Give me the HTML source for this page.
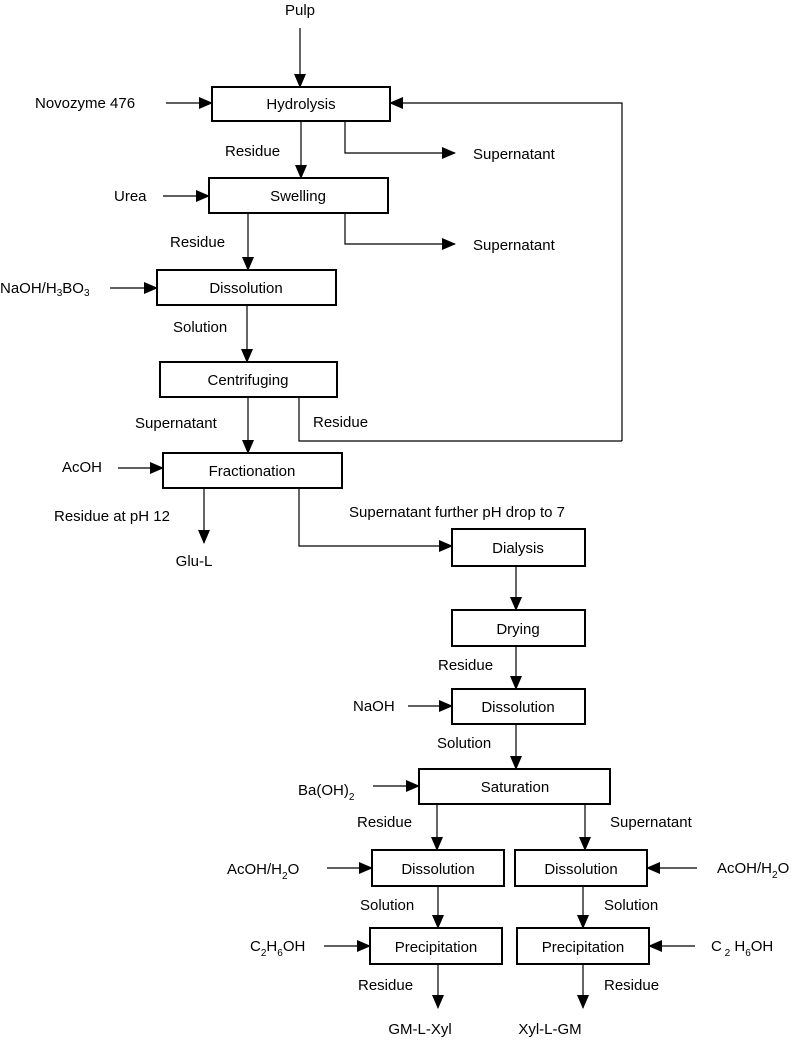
<!DOCTYPE html>
<html><head><style>
html,body{margin:0;padding:0;background:#fff;}
svg{display:block;}
text{font-family:"Liberation Sans",Arial,sans-serif;font-size:15px;fill:#000;}
</style></head><body>
<svg width="797" height="1041" viewBox="0 0 797 1041" xmlns="http://www.w3.org/2000/svg">
<defs><marker id="a" markerWidth="10" markerHeight="10" refX="9" refY="5" orient="auto" markerUnits="userSpaceOnUse"><path d="M0,0 L10,5 L0,10 z" fill="#000"/></marker>
<marker id="d" markerWidth="14" markerHeight="14" refX="13" refY="6" orient="auto" markerUnits="userSpaceOnUse"><path d="M0,0 L14,6 L0,12 z" fill="#000"/></marker></defs>
<g fill="none" stroke="#000" stroke-width="1.2">
<!-- boxes -->
<rect x="212" y="87" width="178" height="34" stroke-width="2"/>
<rect x="209" y="178" width="179" height="35" stroke-width="2"/>
<rect x="157" y="270" width="179" height="35" stroke-width="2"/>
<rect x="160" y="362" width="177" height="35" stroke-width="2"/>
<rect x="163" y="453" width="179" height="35" stroke-width="2"/>
<rect x="452" y="529" width="133" height="37" stroke-width="2"/>
<rect x="452" y="610" width="133" height="36" stroke-width="2"/>
<rect x="452" y="689" width="133" height="35" stroke-width="2"/>
<rect x="419" y="769" width="191" height="35" stroke-width="2"/>
<rect x="372" y="850" width="132" height="36" stroke-width="2"/>
<rect x="515" y="850" width="132" height="36" stroke-width="2"/>
<rect x="370" y="928" width="132" height="36" stroke-width="2"/>
<rect x="517" y="928" width="132" height="36" stroke-width="2"/>
<!-- arrows -->
<g marker-end="url(#d)">
<line x1="300" y1="28" x2="300" y2="87"/>
<line x1="166" y1="103" x2="212" y2="103"/>
<polyline points="622,441 622,103 390,103"/>
<line x1="301" y1="121" x2="301" y2="178"/>
<polyline points="345,121 345,153 455,153"/>
<line x1="163" y1="196" x2="209" y2="196"/>
<line x1="248" y1="213" x2="248" y2="270"/>
<polyline points="345,213 345,244 455,244"/>
<line x1="110" y1="288" x2="157" y2="288"/>
<line x1="247" y1="305" x2="247" y2="362"/>
<line x1="248" y1="397" x2="248" y2="453"/>
<line x1="118" y1="468" x2="163" y2="468"/>
<line x1="204" y1="488" x2="204" y2="543"/>
<polyline points="299,488 299,546 452,546"/>
<line x1="516" y1="566" x2="516" y2="610"/>
<line x1="516" y1="646" x2="516" y2="689"/>
<line x1="408" y1="706" x2="452" y2="706"/>
<line x1="516" y1="724" x2="516" y2="769"/>
<line x1="373" y1="786" x2="419" y2="786"/>
<line x1="437" y1="804" x2="437" y2="850"/>
<line x1="585" y1="804" x2="585" y2="850"/>
<line x1="327" y1="868" x2="372" y2="868"/>
<line x1="697" y1="868" x2="647" y2="868"/>
<line x1="438" y1="886" x2="438" y2="928"/>
<line x1="583" y1="886" x2="583" y2="928"/>
<line x1="324" y1="946" x2="370" y2="946"/>
<line x1="695" y1="946" x2="649" y2="946"/>
<line x1="438" y1="964" x2="438" y2="1008"/>
<line x1="583" y1="964" x2="583" y2="1008"/>
</g>
<polyline points="299,397 299,441 622,441"/>
</g>
<text x="300" y="15" text-anchor="middle">Pulp</text>
<text x="301" y="109" text-anchor="middle">Hydrolysis</text>
<text x="35" y="108">Novozyme  476</text>
<text x="225" y="156">Residue</text>
<text x="473" y="159">Supernatant</text>
<text x="298" y="201" text-anchor="middle">Swelling</text>
<text x="114" y="201">Urea</text>
<text x="170" y="247">Residue</text>
<text x="473" y="250">Supernatant</text>
<text x="246" y="293" text-anchor="middle">Dissolution</text>
<text x="0" y="293">NaOH/H<tspan font-size="10" dy="3">3</tspan><tspan dy="-3">BO</tspan><tspan font-size="10" dy="3">3</tspan></text>
<text x="173" y="332">Solution</text>
<text x="248" y="385" text-anchor="middle">Centrifuging</text>
<text x="135" y="428">Supernatant</text>
<text x="313" y="427">Residue</text>
<text x="252" y="476" text-anchor="middle">Fractionation</text>
<text x="62" y="472">AcOH</text>
<text x="54" y="521">Residue at pH 12</text>
<text x="349" y="517">Supernatant further pH drop to 7</text>
<text x="194" y="566" text-anchor="middle">Glu-L</text>
<text x="518" y="553" text-anchor="middle">Dialysis</text>
<text x="518" y="634" text-anchor="middle">Drying</text>
<text x="438" y="670">Residue</text>
<text x="518" y="712" text-anchor="middle">Dissolution</text>
<text x="353" y="711">NaOH</text>
<text x="437" y="748">Solution</text>
<text x="515" y="792" text-anchor="middle">Saturation</text>
<text x="298" y="795">Ba(OH)<tspan font-size="10" dy="5">2</tspan></text>
<text x="357" y="827">Residue</text>
<text x="610" y="827">Supernatant</text>
<text x="438" y="874" text-anchor="middle">Dissolution</text>
<text x="581" y="874" text-anchor="middle">Dissolution</text>
<text x="227" y="874">AcOH/H<tspan font-size="10" dy="5">2</tspan><tspan dy="-5">O</tspan></text>
<text x="717" y="873">AcOH/H<tspan font-size="10" dy="5">2</tspan><tspan dy="-5">O</tspan></text>
<text x="360" y="910">Solution</text>
<text x="604" y="910">Solution</text>
<text x="436" y="952" text-anchor="middle">Precipitation</text>
<text x="583" y="952" text-anchor="middle">Precipitation</text>
<text x="250" y="951">C<tspan font-size="10" dy="5">2</tspan><tspan dy="-5">H</tspan><tspan font-size="10" dy="5">6</tspan><tspan dy="-5">OH</tspan></text>
<text x="711" y="951">C<tspan font-size="10" dy="5"> 2</tspan><tspan dy="-5"> H</tspan><tspan font-size="10" dy="5">6</tspan><tspan dy="-5">OH</tspan></text>
<text x="358" y="990">Residue</text>
<text x="604" y="990">Residue</text>
<text x="420" y="1034" text-anchor="middle">GM-L-Xyl</text>
<text x="550" y="1034" text-anchor="middle">Xyl-L-GM</text>
</svg>
</body></html>
